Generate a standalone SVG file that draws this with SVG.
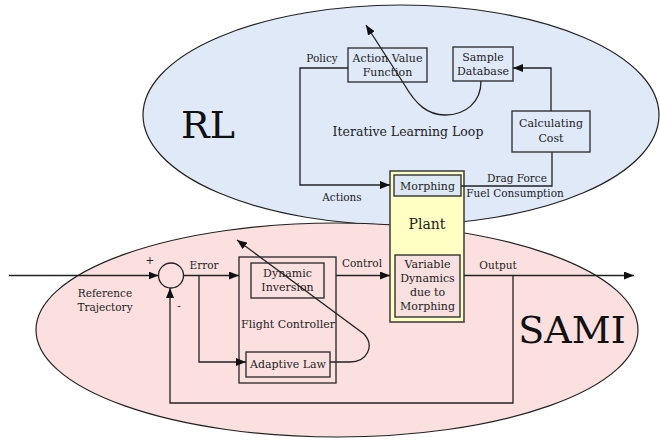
<svg xmlns="http://www.w3.org/2000/svg" width="660" height="440" viewBox="0 0 660 440">
  <style>
    text { fill: #222; text-anchor: middle; }
    .lbl { font-size: 10.5px; }
    .box { font-size: 11px; }
    .big { font-size: 38px; fill: #111; }
    .blk { fill: none; stroke: #333; stroke-width: 1.4; }
    .wire { fill: none; stroke: #222; stroke-width: 1.3; }
  </style>
  <defs>
    <marker id="arrow" viewBox="0 0 10 8" refX="10" refY="4" markerWidth="10" markerHeight="8" markerUnits="userSpaceOnUse" orient="auto">
      <path d="M0,0 L10,4 L0,8 Z" fill="#111"/>
    </marker>
  </defs>

  <g font-family="'DejaVu Serif', serif">
  <!-- regions -->
  <g id="rl-region">
    <ellipse cx="401" cy="115" rx="258" ry="110" fill="#dfe9f8" stroke="#222" stroke-width="1.2"/>
    <text class="big" x="208" y="138">RL</text>
    <text x="408" y="136" style="font-size:12.5px">Iterative Learning Loop</text>
  </g>
  <g id="sami-region">
    <ellipse cx="337" cy="330" rx="301" ry="107" fill="#fce0e0" stroke="#222" stroke-width="1.2"/>
    <text class="big" x="572" y="343" style="font-size:38px">SAMI</text>
  </g>

  <!-- RL blocks -->
  <g id="action-value">
    <rect class="blk" x="348" y="48" width="79" height="34"/>
    <text class="box" x="387.5" y="62">Action Value</text>
    <text class="box" x="387.5" y="76">Function</text>
  </g>
  <g id="sample-db">
    <rect class="blk" x="453" y="47" width="60" height="34"/>
    <text class="box" x="483" y="61">Sample</text>
    <text class="box" x="483" y="75">Database</text>
  </g>
  <g id="calc-cost">
    <rect class="blk" x="512" y="111" width="78" height="41"/>
    <text class="box" x="551" y="127">Calculating</text>
    <text class="box" x="551" y="142">Cost</text>
  </g>

  <!-- plant -->
  <g id="plant">
    <rect x="390" y="171" width="74" height="151" fill="#ffffc4" stroke="#444" stroke-width="1.6"/>
    <text x="427" y="229" style="font-size:14px">Plant</text>
  </g>
  <g id="morphing">
    <rect x="394" y="175" width="67" height="21" fill="#dde8f5" stroke="#333" stroke-width="1.4"/>
    <text class="box" x="427.5" y="189.5">Morphing</text>
  </g>
  <g id="variable-dynamics">
    <rect x="395" y="255" width="65" height="62" fill="#f8e0e0" stroke="#333" stroke-width="1.4"/>
    <text class="box" x="427.5" y="268">Variable</text>
    <text class="box" x="427.5" y="282">Dynamics</text>
    <text class="box" x="427.5" y="296">due to</text>
    <text class="box" x="427.5" y="310">Morphing</text>
  </g>

  <!-- SAMI blocks -->
  <g id="summing-junction">
    <circle cx="171" cy="275.5" r="12.5" fill="#fce0e0" stroke="#222" stroke-width="1.3"/>
  </g>
  <g id="flight-controller">
    <rect class="blk" x="239" y="257" width="97" height="126"/>
    <text class="box" x="288" y="328">Flight Controller</text>
  </g>
  <g id="dynamic-inversion">
    <rect class="blk" x="251" y="263" width="73" height="35"/>
    <text class="box" x="287.5" y="277">Dynamic</text>
    <text class="box" x="287.5" y="291">Inversion</text>
  </g>
  <g id="adaptive-law">
    <rect class="blk" x="246" y="352" width="84" height="25"/>
    <text class="box" x="288" y="368">Adaptive Law</text>
  </g>

  <!-- connectors -->
  <g id="connectors">
    <!-- RL loop -->
    <path class="wire" d="M551,111 L551,68 L513,68" marker-end="url(#arrow)"/>
    <path class="wire" d="M481,81 C481,102 466,115 445,115 C428,115 416,105 404,84 L366,25" marker-end="url(#arrow)"/>
    <path class="wire" d="M348,68 L300,68 L300,185 L390,185" marker-end="url(#arrow)"/>
    <path class="wire" d="M461,186 L552,186 L552,152"/>
    <!-- SAMI loop -->
    <path class="wire" d="M9,275.5 L158.5,275.5" marker-end="url(#arrow)"/>
    <path class="wire" d="M183.5,275.5 L239,275.5" marker-end="url(#arrow)"/>
    <path class="wire" d="M199,275.5 L199,362 L246,362" marker-end="url(#arrow)"/>
    <path class="wire" d="M330,362 L350,362 C367,362 375,346 364,334 L237,240" marker-end="url(#arrow)"/>
    <path class="wire" d="M336,275.5 L390,275.5" marker-end="url(#arrow)"/>
    <path class="wire" d="M464,275.5 L634,275.5" marker-end="url(#arrow)"/>
    <path class="wire" d="M513,275.5 L513,403 L170,403 L170,288" marker-end="url(#arrow)"/>
  </g>

  <!-- connector labels -->
  <g id="labels">
    <text class="lbl" x="322" y="62">Policy</text>
    <text class="lbl" x="342" y="201">Actions</text>
    <text class="lbl" x="517" y="182">Drag Force</text>
    <text class="lbl" x="515" y="197">Fuel Consumption</text>
    <text class="lbl" x="150" y="264">+</text>
    <text class="lbl" x="179" y="310">-</text>
    <text class="lbl" x="105" y="297">Reference</text>
    <text class="lbl" x="105" y="311">Trajectory</text>
    <text class="lbl" x="204" y="269">Error</text>
    <text class="lbl" x="362" y="267">Control</text>
    <text class="lbl" x="498" y="269">Output</text>
  </g>
  </g>
</svg>
